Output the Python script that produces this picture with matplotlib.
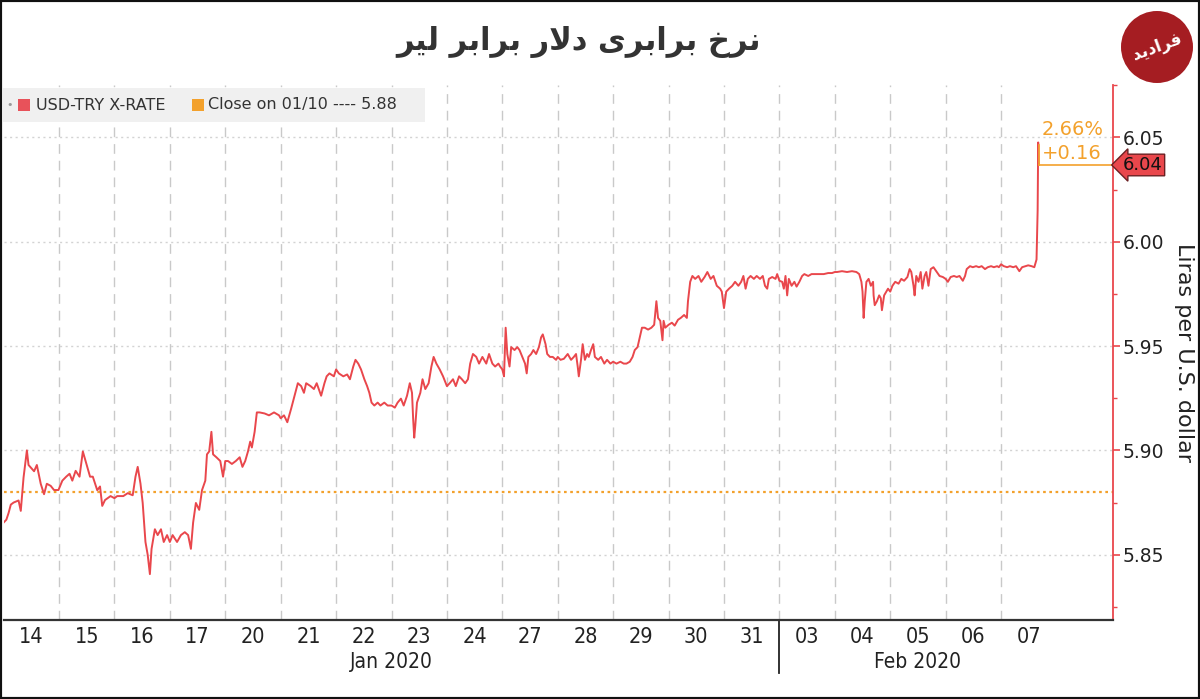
import numpy as np
import matplotlib
matplotlib.use("Agg")
import matplotlib.pyplot as plt
from matplotlib.patches import Rectangle, Ellipse
from matplotlib.transforms import blended_transform_factory

# ---------------- data (session position in trading days, USD/TRY) ----------------
week1 = [(0.00,5.8654),(0.05,5.8668),(0.09,5.8700),(0.13,5.8740),(0.18,5.8750),(0.27,5.8760),(0.31,5.8710),
         (0.36,5.8870),(0.42,5.9000),(0.45,5.8930),(0.55,5.8900),(0.60,5.8930),(0.67,5.8840),(0.73,5.8790),
         (0.78,5.8840),(0.85,5.8830),(0.91,5.8810),(0.99,5.8810),
         (1.06,5.8855),(1.13,5.8874),(1.19,5.8888),(1.24,5.8855),(1.30,5.8902),(1.37,5.8874),(1.43,5.8995),
         (1.48,5.8949),(1.56,5.8874),(1.61,5.8874),(1.69,5.8809),(1.74,5.8827),(1.78,5.8734),(1.83,5.8762),
         (1.93,5.8781),(2.00,5.8771),
         (2.05,5.8781),(2.16,5.8781),(2.24,5.8795),(2.33,5.8785),(2.38,5.8874),(2.42,5.8921),(2.47,5.8841),
         (2.51,5.8748),(2.56,5.8561),(2.60,5.8500),(2.64,5.8407),(2.67,5.8528),(2.73,5.8622),(2.78,5.8594),
         (2.84,5.8622),(2.89,5.8561),(2.95,5.8594),(3.00,5.8561),
         (3.05,5.8594),(3.13,5.8561),(3.20,5.8594),(3.27,5.8608),(3.33,5.8594),(3.38,5.8528),(3.42,5.8654),
         (3.47,5.8748),(3.53,5.8715),(3.58,5.8809),(3.64,5.8855),(3.67,5.8981),(3.71,5.8995),(3.75,5.9089),
         (3.78,5.8981),(3.84,5.8967),(3.91,5.8949),(3.96,5.8874),(4.00,5.8949)]
week2 = [(4.05,5.8949),(4.12,5.8935),(4.19,5.8949),(4.26,5.8967),(4.31,5.8921),(4.36,5.8949),(4.41,5.8995),
         (4.45,5.9042),(4.48,5.9014),(4.53,5.9089),(4.57,5.9182),(4.62,5.9182),(4.71,5.9177),(4.79,5.9168),
         (4.88,5.9182),(4.97,5.9168),
         (5.00,5.9154),(5.06,5.9168),(5.12,5.9135),(5.19,5.9201),(5.25,5.9262),(5.31,5.9322),(5.37,5.9308),
         (5.42,5.9276),(5.46,5.9322),(5.54,5.9308),(5.60,5.9294),(5.65,5.9322),(5.73,5.9262),(5.79,5.9322),
         (5.83,5.9355),(5.88,5.9369),(5.96,5.9355),(6.00,5.9388),
         (6.05,5.9369),(6.13,5.9355),(6.20,5.9364),(6.25,5.9341),(6.31,5.9402),(6.35,5.9434),(6.40,5.9416),
         (6.45,5.9388),(6.51,5.9341),(6.56,5.9308),(6.60,5.9276),(6.64,5.9229),(6.69,5.9215),(6.75,5.9229),
         (6.80,5.9215),(6.87,5.9229),(6.93,5.9215),(7.00,5.9215),
         (7.06,5.9205),(7.11,5.9229),(7.17,5.9248),(7.22,5.9215),(7.28,5.9262),(7.33,5.9322),(7.37,5.9276),
         (7.39,5.9154),(7.41,5.9061),(7.43,5.9121),(7.46,5.9229),(7.52,5.9276),(7.56,5.9341),(7.61,5.9294),
         (7.67,5.9322),(7.72,5.9402),(7.76,5.9448),(7.81,5.9416),(7.87,5.9388),(7.93,5.9355),(8.00,5.9308),
         (8.05,5.9322),(8.11,5.9341),(8.16,5.9308),(8.22,5.9355),(8.27,5.9341),(8.33,5.9322),(8.38,5.9341),
         (8.42,5.9416),(8.47,5.9462),(8.53,5.9448),(8.58,5.9416),(8.64,5.9448),(8.71,5.9416),(8.76,5.9462),
         (8.82,5.9416),(8.87,5.9402),(8.93,5.9416),(8.96,5.9402),(9.00,5.9388)]
week3 = [(9.03,5.9355),(9.06,5.9588),(9.09,5.9462),(9.13,5.9402),(9.16,5.9495),(9.22,5.9481),(9.27,5.9495),
         (9.31,5.9481),(9.36,5.9448),(9.41,5.9416),(9.44,5.9369),(9.47,5.9448),(9.52,5.9462),(9.56,5.9481),
         (9.61,5.9462),(9.66,5.9495),(9.70,5.9542),(9.73,5.9556),(9.78,5.9509),(9.81,5.9462),(9.86,5.9448),
         (9.91,5.9448),(9.97,5.9434),(10.00,5.9448),
         (10.05,5.9434),(10.11,5.9439),(10.18,5.9462),(10.24,5.9434),(10.29,5.9448),(10.33,5.9462),(10.36,5.9402),
         (10.38,5.9355),(10.42,5.9434),(10.45,5.9509),(10.49,5.9434),(10.53,5.9462),(10.56,5.9448),(10.60,5.9481),
         (10.64,5.9509),(10.67,5.9448),(10.73,5.9434),(10.78,5.9448),(10.84,5.9416),(10.89,5.9434),(10.95,5.9416),
         (11.00,5.9425),
         (11.06,5.9416),(11.13,5.9425),(11.19,5.9416),(11.24,5.9416),(11.30,5.9425),(11.35,5.9448),(11.39,5.9481),
         (11.44,5.9495),(11.48,5.9542),(11.52,5.9588),(11.57,5.9588),(11.63,5.9579),(11.69,5.9588),(11.74,5.9602),
         (11.78,5.9715),(11.81,5.9635),(11.85,5.9621),(11.89,5.9528),(11.91,5.9621),(11.94,5.9588),(12.00,5.9602),
         (12.06,5.9612),(12.11,5.9598),(12.17,5.9626),(12.22,5.9635),(12.28,5.9649),(12.33,5.9635),(12.35,5.9715),
         (12.39,5.9808),(12.43,5.9836),(12.48,5.9822),(12.54,5.9836),(12.59,5.9808),(12.65,5.9831),(12.70,5.9855),
         (12.76,5.9822),(12.81,5.9836),(12.87,5.9789),(12.93,5.9775),(12.96,5.9761),(13.00,5.9682),
         (13.04,5.9761),(13.09,5.9775),(13.15,5.9789),(13.20,5.9808),(13.26,5.9789),(13.31,5.9808),(13.35,5.9836),
         (13.39,5.9775),(13.43,5.9822),(13.48,5.9836),(13.54,5.9822),(13.59,5.9836),(13.65,5.9822),(13.70,5.9836),
         (13.74,5.9789),(13.78,5.9775),(13.81,5.9822),(13.87,5.9831),(13.93,5.9822),(13.96,5.9845),(14.00,5.9813)]
week4 = [(14.05,5.9808),(14.08,5.9775),(14.11,5.9836),(14.14,5.9743),(14.17,5.9822),(14.22,5.9789),(14.27,5.9808),
         (14.31,5.9785),(14.36,5.9808),(14.41,5.9836),(14.45,5.9845),(14.52,5.9836),(14.58,5.9845),(14.64,5.9845),
         (14.72,5.9845),(14.80,5.9845),(14.88,5.9850),(14.95,5.9850),(15.00,5.9855),
         (15.04,5.9855),(15.13,5.9859),(15.22,5.9855),(15.31,5.9859),(15.39,5.9855),(15.44,5.9845),(15.48,5.9808),
         (15.50,5.9761),(15.52,5.9635),(15.54,5.9715),(15.57,5.9808),(15.61,5.9822),(15.65,5.9789),(15.69,5.9808),
         (15.70,5.9743),(15.72,5.9696),(15.76,5.9715),(15.80,5.9743),(15.83,5.9729),(15.85,5.9672),(15.89,5.9743),
         (15.93,5.9761),(15.96,5.9775),(16.00,5.9761),
         (16.04,5.9789),(16.09,5.9808),(16.15,5.9799),(16.20,5.9822),(16.25,5.9813),(16.31,5.9831),(16.35,5.9869),
         (16.38,5.9855),(16.42,5.9789),(16.44,5.9743),(16.47,5.9836),(16.51,5.9808),(16.55,5.9855),(16.58,5.9775),
         (16.62,5.9836),(16.65,5.9855),(16.69,5.9789),(16.73,5.9869),(16.78,5.9878),(16.84,5.9855),(16.89,5.9836),
         (16.95,5.9831),(17.00,5.9822),
         (17.04,5.9808),(17.09,5.9831),(17.15,5.9836),(17.20,5.9831),(17.25,5.9836),(17.31,5.9813),(17.35,5.9836),
         (17.38,5.9869),(17.44,5.9883),(17.49,5.9878),(17.55,5.9883),(17.60,5.9878),(17.65,5.9883),(17.71,5.9869),
         (17.76,5.9878),(17.82,5.9883),(17.87,5.9878),(17.93,5.9883),(17.96,5.9878),(18.00,5.9892),
         (18.05,5.9883),(18.11,5.9878),(18.16,5.9883),(18.22,5.9878),(18.27,5.9883),(18.33,5.9859),(18.38,5.9878),
         (18.44,5.9883),(18.49,5.9887),(18.55,5.9883),(18.60,5.9878),(18.64,5.9915),(18.66,6.0149),(18.67,6.0476),
         (18.68,6.0368)]

day_labels = ["14", "15", "16", "17", "20", "21", "22", "23", "24", "27", "28", "29", "30", "31",
              "03", "04", "05", "06", "07"]
months = [("Jan 2020", 0, 14), ("Feb 2020", 14, 19)]
y_ticks = [5.85, 5.90, 5.95, 6.00, 6.05]
close_ref = 5.88
last_value = 6.04
pct_change = "2.66%"
abs_change = "+0.16"
title_fa = "نرخ برابری دلار برابر لیر"
logo_fa = "فرادید"

# ---------------- minimal Persian shaping (presentation forms + RTL) ----------------
FORMS = {  # isolated, final, initial, medial
    "ن": (0xFEE5, 0xFEE6, 0xFEE7, 0xFEE8), "خ": (0xFEA5, 0xFEA6, 0xFEA7, 0xFEA8),
    "ب": (0xFE8F, 0xFE90, 0xFE91, 0xFE92), "ی": (0xFBFC, 0xFBFD, 0xFBFE, 0xFBFF),
    "ل": (0xFEDD, 0xFEDE, 0xFEDF, 0xFEE0), "ف": (0xFED1, 0xFED2, 0xFED3, 0xFED4),
    "ر": (0xFEAD, 0xFEAE, None, None), "ا": (0xFE8D, 0xFE8E, None, None),
    "د": (0xFEA9, 0xFEAA, None, None),
}
def shape(text):
    out_words = []
    for word in text.split(" "):
        letters = list(word)
        glyphs = []
        i = 0
        prev_joins = False
        while i < len(letters):
            c = letters[i]
            if c == "ل" and i + 1 < len(letters) and letters[i + 1] == "ا":
                glyphs.append(chr(0xFEFC if prev_joins else 0xFEFB))
                prev_joins = False
                i += 2
                continue
            f = FORMS[c]
            dual = f[2] is not None
            joins_next = dual and (i + 1 < len(letters))
            if prev_joins and joins_next:
                g = f[3]
            elif prev_joins:
                g = f[1]
            elif joins_next:
                g = f[2]
            else:
                g = f[0]
            glyphs.append(chr(g))
            prev_joins = joins_next
            i += 1
        out_words.append("".join(glyphs)[::-1])
    return " ".join(out_words[::-1])

# ---------------- style ----------------
RED = "#e9474c"
ORANGE = "#f3a12c"
GRID = "#c9c9c9"
TXT = "#222222"
plt.rcParams["font.family"] = ["DejaVu Sans"]

fig = plt.figure(figsize=(12, 6.99), dpi=100)
fig.patch.set_facecolor("white")
ax = fig.add_axes([0.003, 0.113, 0.9245, 0.765])

t = np.array([p[0] for w in (week1, week2, week3, week4) for p in w])
v = np.array([p[1] for w in (week1, week2, week3, week4) for p in w])

ax.plot(t, v, color=RED, lw=1.4, zorder=3)
ax.axhline(close_ref, color=ORANGE, lw=1.6, ls=(0, (1.2, 1.6)), zorder=2)

x_end = 20.02
ax.set_xlim(0, x_end)
ax.set_ylim(5.8187, 6.0686)

# last-price marker
t_last = t[-1]
v_last = v[-1]
ax.plot([t_last, x_end], [v_last, v_last], color=ORANGE, lw=1.2, zorder=3, clip_on=False)
ax.plot([t_last, t_last], [v_last, 6.0465], color=ORANGE, lw=1.2, zorder=3)
ax.text(t_last + 0.06, 6.0536, pct_change, color=ORANGE, fontsize=14, ha="left", va="center")
ax.text(t_last + 0.06, 6.0424, abs_change, color=ORANGE, fontsize=14, ha="left", va="center")
btr = blended_transform_factory(ax.transAxes, ax.transData)
ax.text(1.009, v_last, f"{last_value:.2f}", transform=btr, fontsize=13, color="#111111",
        ha="left", va="center", zorder=6, clip_on=False,
        bbox=dict(boxstyle="larrow,pad=0.1", fc=RED, ec="#6b1f22", lw=1))

# spines
for s in ("top", "left"):
    ax.spines[s].set_visible(False)
ax.spines["right"].set_color(RED)
ax.spines["right"].set_linewidth(1.3)
ax.spines["bottom"].set_color("#333333")
ax.spines["bottom"].set_linewidth(1.6)

# y axis on right
ax.yaxis.tick_right()
ax.yaxis.set_label_position("right")
ax.set_yticks(y_ticks)
ax.set_yticklabels([f"{y:.2f}" for y in y_ticks])
ax.set_yticks([y + 0.025 for y in [5.80] + y_ticks], minor=True)
ax.tick_params(axis="y", which="major", colors=RED, labelcolor=TXT, length=5, width=1.2,
               labelsize=13.5, pad=2)
ax.tick_params(axis="y", which="minor", colors=RED, length=3, width=1)
ax.set_ylabel("Liras per U.S. dollar", rotation=270, fontsize=16, color=TXT, va="center")
ax.yaxis.set_label_coords(1.064, 0.5)

# x axis: boundaries as gridlines, labels centred in each session
ax.set_xticks(np.arange(1, len(day_labels)))
ax.set_xticklabels([])
ax.set_xticks(np.arange(len(day_labels)) + 0.5, minor=True)
ax.set_xticklabels(day_labels, minor=True)
ax.tick_params(axis="x", which="major", length=0)
ax.tick_params(axis="x", which="minor", length=0, labelsize=15.5, pad=5, labelcolor=TXT)
for lab in ax.get_xticklabels(minor=True):
    lab.set_fontstretch("condensed")

ax.grid(axis="x", which="major", color=GRID, lw=1, ls=(0, (7, 5)))
ax.grid(axis="y", which="major", color="#d3d3d3", lw=1, ls=(0, (1.5, 2.5)))
ax.set_axisbelow(True)

xtr = blended_transform_factory(ax.transData, ax.transAxes)
for name, a, b in months:
    ax.text((a + b) / 2, -0.079, name, transform=xtr, ha="center", va="center", fontsize=15,
            color=TXT, fontstretch="condensed")
ax.plot([months[1][1], months[1][1]], [0, -0.10], transform=xtr, color="#222222", lw=1.3,
        clip_on=False)

# legend box
fig.add_artist(Rectangle((3 / 1200, 1 - 122 / 699), 422 / 1200, 34 / 699, transform=fig.transFigure,
                         fc="#f0f0f0", ec="none", zorder=5))
fig.add_artist(Rectangle((18 / 1200, 1 - 111 / 699), 12 / 1200, 12 / 699, transform=fig.transFigure,
                         fc="#e8525a", ec="none", zorder=6))
fig.add_artist(Rectangle((192 / 1200, 1 - 111 / 699), 12 / 1200, 12 / 699, transform=fig.transFigure,
                         fc=ORANGE, ec="none", zorder=6))
fig.text(36 / 1200, 1 - 105 / 699, "USD-TRY X-RATE", fontsize=11.5, color="#333333", va="center",
         zorder=7)
fig.text(208 / 1200, 1 - 105 / 699, f"Close on 01/10 ---- {close_ref:.2f}", fontsize=11.5,
         color="#333333", va="center", zorder=7)
fig.text(10 / 1200, 1 - 105 / 699, "\u2022", fontsize=8, color="#999999", va="center", ha="center",
         zorder=7)

# title
fig.text(0.482, 1 - 42 / 699, shape(title_fa), fontsize=22, fontweight="bold", color="#333333",
         ha="center", va="center")

# logo
fig.add_artist(Ellipse((1157 / 1200, 1 - 47 / 699), 72 / 1200, 72 / 699, transform=fig.transFigure,
                       fc="#a51d22", ec="none"))
fig.text(1157 / 1200, 1 - 47 / 699, shape(logo_fa), fontsize=12, fontweight="bold", color="white",
         ha="center", va="center", rotation=20)

# outer frame
fig.add_artist(Rectangle((0, 0), 1, 1, transform=fig.transFigure, fill=False, ec="#111111", lw=3,
                         zorder=10))

fig.savefig("out.png", dpi=100)
